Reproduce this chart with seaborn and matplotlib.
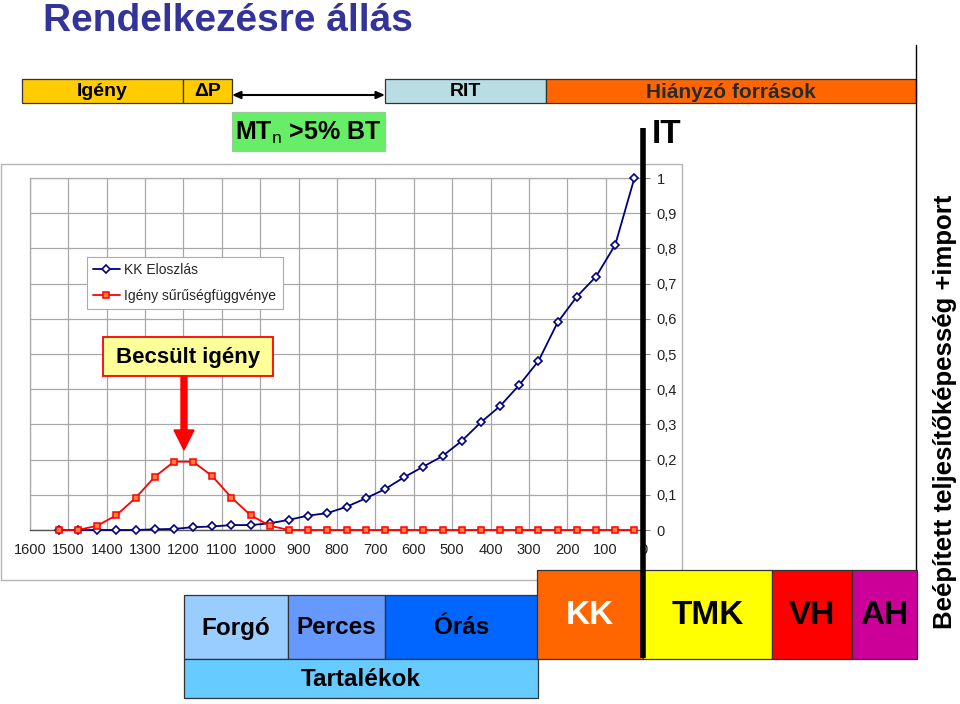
import matplotlib
matplotlib.use("Agg")
import matplotlib.pyplot as plt
from matplotlib.patches import Rectangle, FancyArrow
import seaborn as sns
import pandas as pd

# ---------------- data ----------------
x_pos = [1525, 1475, 1425, 1375, 1325, 1275, 1225, 1175, 1125, 1075,
         1025, 975, 925, 875, 825, 775, 725, 675, 625, 575,
         525, 475, 425, 375, 325, 275, 225, 175, 125, 75, 25]
kk_eloszlas = [0, 0, 0, 0, 0, 0.002, 0.003, 0.008, 0.010, 0.014,
               0.014, 0.019, 0.029, 0.041, 0.048, 0.066, 0.090, 0.116, 0.150, 0.180,
               0.210, 0.253, 0.306, 0.352, 0.412, 0.480, 0.590, 0.663, 0.720, 0.810, 1.0]
igeny_suruseg = [0, 0, 0.012, 0.042, 0.091, 0.151, 0.194, 0.194, 0.153, 0.092,
                 0.042, 0.012, 0, 0, 0, 0, 0, 0, 0, 0,
                 0, 0, 0, 0, 0, 0, 0, 0, 0, 0, 0]
series_names = ["KK Eloszlás", "Igény sűrűségfüggvénye"]
x_ticks = [1600, 1500, 1400, 1300, 1200, 1100, 1000, 900, 800, 700, 600, 500, 400, 300, 200, 100, 0]
y_ticks = [0, 0.1, 0.2, 0.3, 0.4, 0.5, 0.6, 0.7, 0.8, 0.9, 1.0]
y_tick_labels = ["0", "0,1", "0,2", "0,3", "0,4", "0,5", "0,6", "0,7", "0,8", "0,9", "1"]

df = pd.DataFrame({"x": x_pos, "kk": kk_eloszlas, "ig": igeny_suruseg})

# ---------------- style ----------------
sns.set_style("white")
plt.rcParams["font.family"] = ["Liberation Sans", "DejaVu Sans"]
plt.rcParams["mathtext.fontset"] = "custom"
plt.rcParams["mathtext.rm"] = "Liberation Sans"
plt.rcParams["mathtext.bf"] = "Liberation Sans:bold"

W, H = 960, 704
fig = plt.figure(figsize=(9.6, 7.04), dpi=100)

# main chart axes (pixel box 30..644 x 178..530)
ax = fig.add_axes([30 / W, (H - 530) / H, 614 / W, 352 / H])
ax.set_facecolor("white")

sns.lineplot(data=df, x="x", y="kk", ax=ax, color="#000080", linewidth=1.3,
             marker="D", markersize=4.5, markerfacecolor="white",
             markeredgecolor="#000080", markeredgewidth=1.2,
             label=series_names[0], clip_on=False, zorder=3)
sns.lineplot(data=df, x="x", y="ig", ax=ax, color="#FF0000", linewidth=1.3,
             marker="s", markersize=4.5, markerfacecolor="#FF8040",
             markeredgecolor="#FF0000", markeredgewidth=1.1,
             label=series_names[1], clip_on=False, zorder=4)

ax.set_xlim(1600, 0)
ax.set_ylim(0, 1)
ax.set_xticks(x_ticks)
ax.set_xticklabels([str(v) for v in x_ticks], fontsize=10.5)
ax.set_yticks(y_ticks)
ax.set_yticklabels(y_tick_labels, fontsize=10.5)
ax.yaxis.tick_right()
ax.set_xlabel("")
ax.set_ylabel("")
ax.grid(True, color="#A8A8A8", linewidth=0.9)
ax.set_axisbelow(True)
ax.tick_params(axis="x", length=3, pad=6, colors="#222222", color="#888888")
ax.tick_params(axis="y", length=4, pad=5, colors="#222222", color="#888888", right=True, left=False)
for side in ["left", "top", "right"]:
    ax.spines[side].set_color("#A8A8A8")
    ax.spines[side].set_linewidth(0.9)
ax.spines["bottom"].set_color("#555555")
ax.spines["bottom"].set_linewidth(1.0)

leg = ax.legend(loc="upper left", bbox_to_anchor=(87 / W, 1 - 257 / H),
                bbox_transform=fig.transFigure, fontsize=10, frameon=True,
                fancybox=False, edgecolor="#AAAAAA", framealpha=1,
                borderpad=0.45, labelspacing=0.85, handlelength=1.9,
                handletextpad=0.35, borderaxespad=0)
leg.get_frame().set_linewidth(0.8)

# ---------------- overlay (pixel coordinates) ----------------
ov = fig.add_axes([0, 0, 1, 1])
ov.set_xlim(0, W)
ov.set_ylim(H, 0)
ov.axis("off")


def box(x0, y0, x1, y1, fc, ec="#333333", lw=0.9, text=None, tc="black",
        size=14, weight="bold", tx=None):
    ov.add_patch(Rectangle((x0, y0), x1 - x0, y1 - y0, facecolor=fc,
                           edgecolor=ec, linewidth=lw, zorder=2))
    if text is not None:
        cx = (x0 + x1) / 2 if tx is None else tx
        ov.text(cx, (y0 + y1) / 2 + 1, text, ha="center", va="center",
                color=tc, fontsize=size, fontweight=weight, zorder=3)


# chart area border
ov.add_patch(Rectangle((1, 164), 681, 416, facecolor="none",
                       edgecolor="#B5B5B5", linewidth=1.0, zorder=1))

# title
ov.text(43, 31, "Rendelkezésre állás", ha="left", va="baseline",
        fontsize=28, fontweight="bold", color="#333399")

# top bar
box(22, 79, 183, 103, "#FFCC00", text="Igény", size=14)
box(183, 79, 232, 103, "#FFCC00", text="ΔP", size=14)
box(385, 79, 546, 103, "#B8DDE3", text="RIT", size=14)
box(546, 79, 916, 103, "#FF6600", text="Hiányzó források", size=15, tc="#2A2A2A")
ov.annotate("", xy=(232, 95), xytext=(385, 95),
            arrowprops=dict(arrowstyle="<|-|>,head_length=0.5,head_width=0.22",
                            color="black", lw=1.5, shrinkA=0, shrinkB=0))

# MT_n box
box(232, 112, 385, 151, "#66EE66", ec="#99CC99", text=r"MT$_{\mathrm{n}}$ >5% BT", size=18)

# right frame line
ov.plot([916, 916], [45, 570], color="black", linewidth=1.0)

# IT marker line and label
ov.plot([643, 643], [128, 658], color="black", linewidth=4, solid_capstyle="butt", zorder=5)
ov.text(652, 143, "IT", ha="left", va="baseline", fontsize=24, fontweight="bold", color="black")

# Becsült igény box and arrow
box(103, 337, 273, 376, "#FFFF99", ec="#FF0000", lw=1.3, text="Becsült igény", size=16)
ov.add_patch(FancyArrow(184, 376, 0, 74, width=6, head_width=20, head_length=20,
                        length_includes_head=True, color="#FF0000", zorder=4))

# bottom boxes: reserves
box(184, 595, 288, 659, "#99CCFF", text="Forgó", size=17.5)
box(288, 595, 385, 659, "#6699FF", text="Perces", size=17.5)
box(385, 595, 538, 659, "#0066FF", text="Órás", size=17.5)
box(184, 659, 538, 698, "#66CCFF", text="Tartalékok", size=17.5)

# bottom boxes: capacity
box(537, 570, 643, 659, "#FF6600", text="KK", tc="white", size=24)
box(643, 570, 772, 659, "#FFFF00", text="TMK", size=24)
box(772, 570, 852, 659, "#FF0000", text="VH", size=24)
box(852, 570, 917, 659, "#CC0099", text="AH", size=24)

# vertical label
ov.text(945, 412, "Beépített teljesítőképesség +import", rotation=90,
        ha="center", va="center", fontsize=18.5, fontweight="bold", color="black")

fig.savefig("out.png", dpi=100)
